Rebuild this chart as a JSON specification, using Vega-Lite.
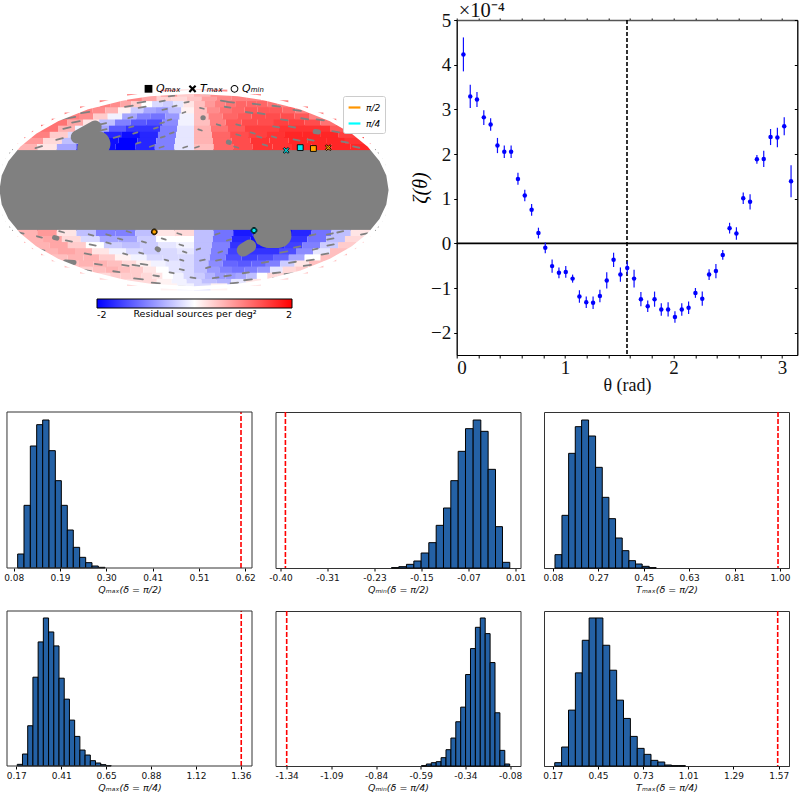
{"$schema":"https://vega.github.io/schema/vega-lite/v6.json","background":"white","padding":{"left":0,"top":0,"right":0,"bottom":0},"config":{"view":{"stroke":"#333"},"font":"DejaVu Sans","axis":{"grid":false}},
"datasets":{
"band":[
{"lat":28.09},{"lat":25.31},{"lat":20.62},{"lat":15.99},{"lat":11.39},{"lat":6.83},{"lat":2.27},{"lat":-2.27},{"lat":-6.83},{"lat":-11.39},{"lat":-15.99},{"lat":-20.62},{"lat":-25.31},{"lat":-28.09}
],
"strips":[
{"lat":32.9,"lon":-180,"lon2":-160,"v":0.6},{"lat":32.9,"lon":-160,"lon2":-140,"v":0.2},{"lat":32.9,"lon":-140,"lon2":-120,"v":-0.7},{"lat":32.9,"lon":-120,"lon2":-100,"v":-1.6},{"lat":32.9,"lon":-100,"lon2":-80,"v":-1.9},{"lat":32.9,"lon":-80,"lon2":-60,"v":-2},{"lat":32.9,"lon":-60,"lon2":-40,"v":-1.7},{"lat":32.9,"lon":-40,"lon2":-20,"v":-1},{"lat":32.9,"lon":-20,"lon2":0,"v":-0.2},{"lat":32.9,"lon":0,"lon2":20,"v":0.5},{"lat":32.9,"lon":20,"lon2":40,"v":1.2},{"lat":32.9,"lon":40,"lon2":60,"v":1.4},{"lat":32.9,"lon":60,"lon2":80,"v":1.6},{"lat":32.9,"lon":80,"lon2":100,"v":1.6},{"lat":32.9,"lon":100,"lon2":120,"v":1.7},{"lat":32.9,"lon":120,"lon2":140,"v":1.7},{"lat":32.9,"lon":140,"lon2":160,"v":1.7},{"lat":32.9,"lon":160,"lon2":180,"v":1.7},
{"lat":37.8,"lon":-180,"lon2":-160,"v":0.8},{"lat":37.8,"lon":-160,"lon2":-140,"v":0.3},{"lat":37.8,"lon":-140,"lon2":-120,"v":-0.5},{"lat":37.8,"lon":-120,"lon2":-100,"v":-1.3},{"lat":37.8,"lon":-100,"lon2":-80,"v":-1.9},{"lat":37.8,"lon":-80,"lon2":-60,"v":-2},{"lat":37.8,"lon":-60,"lon2":-40,"v":-1.7},{"lat":37.8,"lon":-40,"lon2":-20,"v":-1},{"lat":37.8,"lon":-20,"lon2":0,"v":-0.2},{"lat":37.8,"lon":0,"lon2":20,"v":0.6},{"lat":37.8,"lon":20,"lon2":40,"v":1.2},{"lat":37.8,"lon":40,"lon2":60,"v":1.4},{"lat":37.8,"lon":60,"lon2":80,"v":1.6},{"lat":37.8,"lon":80,"lon2":100,"v":1.6},{"lat":37.8,"lon":100,"lon2":120,"v":1.7},{"lat":37.8,"lon":120,"lon2":140,"v":1.7},{"lat":37.8,"lon":140,"lon2":160,"v":1.7},{"lat":37.8,"lon":160,"lon2":180,"v":1.6},
{"lat":42.8,"lon":-180,"lon2":-160,"v":1},{"lat":42.8,"lon":-160,"lon2":-140,"v":0.4},{"lat":42.8,"lon":-140,"lon2":-120,"v":-0.3},{"lat":42.8,"lon":-120,"lon2":-100,"v":-1},{"lat":42.8,"lon":-100,"lon2":-80,"v":-1.7},{"lat":42.8,"lon":-80,"lon2":-60,"v":-1.9},{"lat":42.8,"lon":-60,"lon2":-40,"v":-1.7},{"lat":42.8,"lon":-40,"lon2":-20,"v":-1},{"lat":42.8,"lon":-20,"lon2":0,"v":-0.2},{"lat":42.8,"lon":0,"lon2":20,"v":0.6},{"lat":42.8,"lon":20,"lon2":40,"v":1.2},{"lat":42.8,"lon":40,"lon2":60,"v":1.4},{"lat":42.8,"lon":60,"lon2":80,"v":1.5},{"lat":42.8,"lon":80,"lon2":100,"v":1.6},{"lat":42.8,"lon":100,"lon2":120,"v":1.7},{"lat":42.8,"lon":120,"lon2":140,"v":1.7},{"lat":42.8,"lon":140,"lon2":160,"v":1.7},{"lat":42.8,"lon":160,"lon2":180,"v":1.5},
{"lat":48,"lon":-180,"lon2":-160,"v":1.1},{"lat":48,"lon":-160,"lon2":-140,"v":0.6},{"lat":48,"lon":-140,"lon2":-120,"v":-0.1},{"lat":48,"lon":-120,"lon2":-100,"v":-0.7},{"lat":48,"lon":-100,"lon2":-80,"v":-1.3},{"lat":48,"lon":-80,"lon2":-60,"v":-1.6},{"lat":48,"lon":-60,"lon2":-40,"v":-1.6},{"lat":48,"lon":-40,"lon2":-20,"v":-1},{"lat":48,"lon":-20,"lon2":0,"v":-0.2},{"lat":48,"lon":0,"lon2":20,"v":0.6},{"lat":48,"lon":20,"lon2":40,"v":1.1},{"lat":48,"lon":40,"lon2":60,"v":1.3},{"lat":48,"lon":60,"lon2":80,"v":1.5},{"lat":48,"lon":80,"lon2":100,"v":1.5},{"lat":48,"lon":100,"lon2":120,"v":1.6},{"lat":48,"lon":120,"lon2":140,"v":1.6},{"lat":48,"lon":140,"lon2":160,"v":1.6},{"lat":48,"lon":160,"lon2":180,"v":1.3},
{"lat":53.4,"lon":-180,"lon2":-160,"v":1.1},{"lat":53.4,"lon":-160,"lon2":-140,"v":0.7},{"lat":53.4,"lon":-140,"lon2":-120,"v":0.2},{"lat":53.4,"lon":-120,"lon2":-100,"v":-0.5},{"lat":53.4,"lon":-100,"lon2":-80,"v":-1},{"lat":53.4,"lon":-80,"lon2":-60,"v":-1.3},{"lat":53.4,"lon":-60,"lon2":-40,"v":-1.4},{"lat":53.4,"lon":-40,"lon2":-20,"v":-0.9},{"lat":53.4,"lon":-20,"lon2":0,"v":-0.1},{"lat":53.4,"lon":0,"lon2":20,"v":0.5},{"lat":53.4,"lon":20,"lon2":40,"v":1},{"lat":53.4,"lon":40,"lon2":60,"v":1.3},{"lat":53.4,"lon":60,"lon2":80,"v":1.4},{"lat":53.4,"lon":80,"lon2":100,"v":1.4},{"lat":53.4,"lon":100,"lon2":120,"v":1.5},{"lat":53.4,"lon":120,"lon2":140,"v":1.5},{"lat":53.4,"lon":140,"lon2":160,"v":1.4},{"lat":53.4,"lon":160,"lon2":180,"v":1.1},
{"lat":59.1,"lon":-180,"lon2":-160,"v":1},{"lat":59.1,"lon":-160,"lon2":-140,"v":0.9},{"lat":59.1,"lon":-140,"lon2":-120,"v":0.4},{"lat":59.1,"lon":-120,"lon2":-100,"v":-0.1},{"lat":59.1,"lon":-100,"lon2":-80,"v":-0.7},{"lat":59.1,"lon":-80,"lon2":-60,"v":-1},{"lat":59.1,"lon":-60,"lon2":-40,"v":-1.1},{"lat":59.1,"lon":-40,"lon2":-20,"v":-0.8},{"lat":59.1,"lon":-20,"lon2":0,"v":-0.1},{"lat":59.1,"lon":0,"lon2":20,"v":0.5},{"lat":59.1,"lon":20,"lon2":40,"v":1},{"lat":59.1,"lon":40,"lon2":60,"v":1.2},{"lat":59.1,"lon":60,"lon2":80,"v":1.3},{"lat":59.1,"lon":80,"lon2":100,"v":1.4},{"lat":59.1,"lon":100,"lon2":120,"v":1.4},{"lat":59.1,"lon":120,"lon2":140,"v":1.4},{"lat":59.1,"lon":140,"lon2":160,"v":1.3},{"lat":59.1,"lon":160,"lon2":180,"v":1},
{"lat":65.1,"lon":-180,"lon2":-160,"v":1},{"lat":65.1,"lon":-160,"lon2":-140,"v":0.9},{"lat":65.1,"lon":-140,"lon2":-120,"v":0.6},{"lat":65.1,"lon":-120,"lon2":-100,"v":0.1},{"lat":65.1,"lon":-100,"lon2":-80,"v":-0.4},{"lat":65.1,"lon":-80,"lon2":-60,"v":-0.7},{"lat":65.1,"lon":-60,"lon2":-40,"v":-0.8},{"lat":65.1,"lon":-40,"lon2":-20,"v":-0.5},{"lat":65.1,"lon":-20,"lon2":0,"v":0.1},{"lat":65.1,"lon":0,"lon2":20,"v":0.5},{"lat":65.1,"lon":20,"lon2":40,"v":0.9},{"lat":65.1,"lon":40,"lon2":60,"v":1.1},{"lat":65.1,"lon":60,"lon2":80,"v":1.2},{"lat":65.1,"lon":80,"lon2":100,"v":1.3},{"lat":65.1,"lon":100,"lon2":120,"v":1.3},{"lat":65.1,"lon":120,"lon2":140,"v":1.3},{"lat":65.1,"lon":140,"lon2":160,"v":1.2},{"lat":65.1,"lon":160,"lon2":180,"v":1},
{"lat":71.7,"lon":-180,"lon2":-160,"v":1},{"lat":71.7,"lon":-160,"lon2":-140,"v":0.9},{"lat":71.7,"lon":-140,"lon2":-120,"v":0.7},{"lat":71.7,"lon":-120,"lon2":-100,"v":0.4},{"lat":71.7,"lon":-100,"lon2":-80,"v":0},{"lat":71.7,"lon":-80,"lon2":-60,"v":-0.3},{"lat":71.7,"lon":-60,"lon2":-40,"v":-0.4},{"lat":71.7,"lon":-40,"lon2":-20,"v":-0.2},{"lat":71.7,"lon":-20,"lon2":0,"v":0.2},{"lat":71.7,"lon":0,"lon2":20,"v":0.5},{"lat":71.7,"lon":20,"lon2":40,"v":0.8},{"lat":71.7,"lon":40,"lon2":60,"v":1},{"lat":71.7,"lon":60,"lon2":80,"v":1.1},{"lat":71.7,"lon":80,"lon2":100,"v":1.2},{"lat":71.7,"lon":100,"lon2":120,"v":1.2},{"lat":71.7,"lon":120,"lon2":140,"v":1.2},{"lat":71.7,"lon":140,"lon2":160,"v":1.1},{"lat":71.7,"lon":160,"lon2":180,"v":1},
{"lat":79.3,"lon":-180,"lon2":-140,"v":0.95},{"lat":79.3,"lon":-140,"lon2":-100,"v":0.7},{"lat":79.3,"lon":-100,"lon2":-60,"v":0.35},{"lat":79.3,"lon":-60,"lon2":-20,"v":0.3},{"lat":79.3,"lon":-20,"lon2":20,"v":0.45},{"lat":79.3,"lon":20,"lon2":60,"v":0.75},{"lat":79.3,"lon":60,"lon2":100,"v":0.95},{"lat":79.3,"lon":100,"lon2":140,"v":1},{"lat":79.3,"lon":140,"lon2":180,"v":1},
{"lat":86.3,"lon":-180,"lon2":-90,"v":0.8},{"lat":86.3,"lon":-90,"lon2":0,"v":0.4},{"lat":86.3,"lon":0,"lon2":90,"v":0.6},{"lat":86.3,"lon":90,"lon2":180,"v":0.9},
{"lat":-32.9,"lon":-180,"lon2":-160,"v":0.6},{"lat":-32.9,"lon":-160,"lon2":-140,"v":0.8},{"lat":-32.9,"lon":-140,"lon2":-120,"v":0.2},{"lat":-32.9,"lon":-120,"lon2":-100,"v":-0.5},{"lat":-32.9,"lon":-100,"lon2":-80,"v":-1},{"lat":-32.9,"lon":-80,"lon2":-60,"v":-1},{"lat":-32.9,"lon":-60,"lon2":-40,"v":-0.5},{"lat":-32.9,"lon":-40,"lon2":-20,"v":0.2},{"lat":-32.9,"lon":-20,"lon2":0,"v":0.3},{"lat":-32.9,"lon":0,"lon2":20,"v":-0.5},{"lat":-32.9,"lon":20,"lon2":40,"v":-1.1},{"lat":-32.9,"lon":40,"lon2":60,"v":-1.8},{"lat":-32.9,"lon":60,"lon2":80,"v":-1.9},{"lat":-32.9,"lon":80,"lon2":100,"v":-1.9},{"lat":-32.9,"lon":100,"lon2":120,"v":-1.7},{"lat":-32.9,"lon":120,"lon2":140,"v":-1.1},{"lat":-32.9,"lon":140,"lon2":160,"v":-0.5},{"lat":-32.9,"lon":160,"lon2":180,"v":0.2},
{"lat":-37.8,"lon":-180,"lon2":-160,"v":0.6},{"lat":-37.8,"lon":-160,"lon2":-140,"v":0.7},{"lat":-37.8,"lon":-140,"lon2":-120,"v":0.3},{"lat":-37.8,"lon":-120,"lon2":-100,"v":-0.3},{"lat":-37.8,"lon":-100,"lon2":-80,"v":-0.7},{"lat":-37.8,"lon":-80,"lon2":-60,"v":-0.7},{"lat":-37.8,"lon":-60,"lon2":-40,"v":-0.4},{"lat":-37.8,"lon":-40,"lon2":-20,"v":0},{"lat":-37.8,"lon":-20,"lon2":0,"v":0},{"lat":-37.8,"lon":0,"lon2":20,"v":-0.5},{"lat":-37.8,"lon":20,"lon2":40,"v":-1.1},{"lat":-37.8,"lon":40,"lon2":60,"v":-1.7},{"lat":-37.8,"lon":60,"lon2":80,"v":-1.9},{"lat":-37.8,"lon":80,"lon2":100,"v":-1.9},{"lat":-37.8,"lon":100,"lon2":120,"v":-1.6},{"lat":-37.8,"lon":120,"lon2":140,"v":-1.1},{"lat":-37.8,"lon":140,"lon2":160,"v":-0.5},{"lat":-37.8,"lon":160,"lon2":180,"v":0.3},
{"lat":-42.8,"lon":-180,"lon2":-160,"v":0.6},{"lat":-42.8,"lon":-160,"lon2":-140,"v":0.7},{"lat":-42.8,"lon":-140,"lon2":-120,"v":0.4},{"lat":-42.8,"lon":-120,"lon2":-100,"v":0},{"lat":-42.8,"lon":-100,"lon2":-80,"v":-0.4},{"lat":-42.8,"lon":-80,"lon2":-60,"v":-0.5},{"lat":-42.8,"lon":-60,"lon2":-40,"v":-0.4},{"lat":-42.8,"lon":-40,"lon2":-20,"v":-0.2},{"lat":-42.8,"lon":-20,"lon2":0,"v":-0.1},{"lat":-42.8,"lon":0,"lon2":20,"v":-0.5},{"lat":-42.8,"lon":20,"lon2":40,"v":-1},{"lat":-42.8,"lon":40,"lon2":60,"v":-1.6},{"lat":-42.8,"lon":60,"lon2":80,"v":-1.8},{"lat":-42.8,"lon":80,"lon2":100,"v":-1.7},{"lat":-42.8,"lon":100,"lon2":120,"v":-1.5},{"lat":-42.8,"lon":120,"lon2":140,"v":-1},{"lat":-42.8,"lon":140,"lon2":160,"v":-0.4},{"lat":-42.8,"lon":160,"lon2":180,"v":0.4},
{"lat":-48,"lon":-180,"lon2":-160,"v":0.6},{"lat":-48,"lon":-160,"lon2":-140,"v":0.7},{"lat":-48,"lon":-140,"lon2":-120,"v":0.6},{"lat":-48,"lon":-120,"lon2":-100,"v":0.2},{"lat":-48,"lon":-100,"lon2":-80,"v":-0.1},{"lat":-48,"lon":-80,"lon2":-60,"v":-0.3},{"lat":-48,"lon":-60,"lon2":-40,"v":-0.4},{"lat":-48,"lon":-40,"lon2":-20,"v":-0.3},{"lat":-48,"lon":-20,"lon2":0,"v":-0.2},{"lat":-48,"lon":0,"lon2":20,"v":-0.5},{"lat":-48,"lon":20,"lon2":40,"v":-1},{"lat":-48,"lon":40,"lon2":60,"v":-1.5},{"lat":-48,"lon":60,"lon2":80,"v":-1.6},{"lat":-48,"lon":80,"lon2":100,"v":-1.6},{"lat":-48,"lon":100,"lon2":120,"v":-1.4},{"lat":-48,"lon":120,"lon2":140,"v":-0.9},{"lat":-48,"lon":140,"lon2":160,"v":-0.2},{"lat":-48,"lon":160,"lon2":180,"v":0.5},
{"lat":-53.4,"lon":-180,"lon2":-160,"v":0.5},{"lat":-53.4,"lon":-160,"lon2":-140,"v":0.6},{"lat":-53.4,"lon":-140,"lon2":-120,"v":0.6},{"lat":-53.4,"lon":-120,"lon2":-100,"v":0.4},{"lat":-53.4,"lon":-100,"lon2":-80,"v":0.1},{"lat":-53.4,"lon":-80,"lon2":-60,"v":-0.1},{"lat":-53.4,"lon":-60,"lon2":-40,"v":-0.3},{"lat":-53.4,"lon":-40,"lon2":-20,"v":-0.3},{"lat":-53.4,"lon":-20,"lon2":0,"v":-0.3},{"lat":-53.4,"lon":0,"lon2":20,"v":-0.5},{"lat":-53.4,"lon":20,"lon2":40,"v":-1},{"lat":-53.4,"lon":40,"lon2":60,"v":-1.4},{"lat":-53.4,"lon":60,"lon2":80,"v":-1.5},{"lat":-53.4,"lon":80,"lon2":100,"v":-1.4},{"lat":-53.4,"lon":100,"lon2":120,"v":-1.2},{"lat":-53.4,"lon":120,"lon2":140,"v":-0.7},{"lat":-53.4,"lon":140,"lon2":160,"v":0},{"lat":-53.4,"lon":160,"lon2":180,"v":0.5},
{"lat":-59.1,"lon":-180,"lon2":-160,"v":0.5},{"lat":-59.1,"lon":-160,"lon2":-140,"v":0.6},{"lat":-59.1,"lon":-140,"lon2":-120,"v":0.6},{"lat":-59.1,"lon":-120,"lon2":-100,"v":0.5},{"lat":-59.1,"lon":-100,"lon2":-80,"v":0.3},{"lat":-59.1,"lon":-80,"lon2":-60,"v":0.1},{"lat":-59.1,"lon":-60,"lon2":-40,"v":-0.1},{"lat":-59.1,"lon":-40,"lon2":-20,"v":-0.2},{"lat":-59.1,"lon":-20,"lon2":0,"v":-0.3},{"lat":-59.1,"lon":0,"lon2":20,"v":-0.5},{"lat":-59.1,"lon":20,"lon2":40,"v":-0.9},{"lat":-59.1,"lon":40,"lon2":60,"v":-1.2},{"lat":-59.1,"lon":60,"lon2":80,"v":-1.3},{"lat":-59.1,"lon":80,"lon2":100,"v":-1.2},{"lat":-59.1,"lon":100,"lon2":120,"v":-1},{"lat":-59.1,"lon":120,"lon2":140,"v":-0.4},{"lat":-59.1,"lon":140,"lon2":160,"v":0.2},{"lat":-59.1,"lon":160,"lon2":180,"v":0.5},
{"lat":-65.1,"lon":-180,"lon2":-160,"v":0.4},{"lat":-65.1,"lon":-160,"lon2":-140,"v":0.5},{"lat":-65.1,"lon":-140,"lon2":-120,"v":0.6},{"lat":-65.1,"lon":-120,"lon2":-100,"v":0.5},{"lat":-65.1,"lon":-100,"lon2":-80,"v":0.4},{"lat":-65.1,"lon":-80,"lon2":-60,"v":0.2},{"lat":-65.1,"lon":-60,"lon2":-40,"v":0},{"lat":-65.1,"lon":-40,"lon2":-20,"v":-0.2},{"lat":-65.1,"lon":-20,"lon2":0,"v":-0.3},{"lat":-65.1,"lon":0,"lon2":20,"v":-0.5},{"lat":-65.1,"lon":20,"lon2":40,"v":-0.8},{"lat":-65.1,"lon":40,"lon2":60,"v":-1},{"lat":-65.1,"lon":60,"lon2":80,"v":-1.1},{"lat":-65.1,"lon":80,"lon2":100,"v":-1},{"lat":-65.1,"lon":100,"lon2":120,"v":-0.8},{"lat":-65.1,"lon":120,"lon2":140,"v":-0.2},{"lat":-65.1,"lon":140,"lon2":160,"v":0.3},{"lat":-65.1,"lon":160,"lon2":180,"v":0.4},
{"lat":-71.7,"lon":-180,"lon2":-160,"v":0.3},{"lat":-71.7,"lon":-160,"lon2":-140,"v":0.4},{"lat":-71.7,"lon":-140,"lon2":-120,"v":0.4},{"lat":-71.7,"lon":-120,"lon2":-100,"v":0.4},{"lat":-71.7,"lon":-100,"lon2":-80,"v":0.3},{"lat":-71.7,"lon":-80,"lon2":-60,"v":0.2},{"lat":-71.7,"lon":-60,"lon2":-40,"v":0},{"lat":-71.7,"lon":-40,"lon2":-20,"v":-0.1},{"lat":-71.7,"lon":-20,"lon2":0,"v":-0.3},{"lat":-71.7,"lon":0,"lon2":20,"v":-0.4},{"lat":-71.7,"lon":20,"lon2":40,"v":-0.6},{"lat":-71.7,"lon":40,"lon2":60,"v":-0.8},{"lat":-71.7,"lon":60,"lon2":80,"v":-0.8},{"lat":-71.7,"lon":80,"lon2":100,"v":-0.7},{"lat":-71.7,"lon":100,"lon2":120,"v":-0.5},{"lat":-71.7,"lon":120,"lon2":140,"v":0},{"lat":-71.7,"lon":140,"lon2":160,"v":0.3},{"lat":-71.7,"lon":160,"lon2":180,"v":0.3},
{"lat":-79.3,"lon":-180,"lon2":-140,"v":0.3},{"lat":-79.3,"lon":-140,"lon2":-100,"v":0.3},{"lat":-79.3,"lon":-100,"lon2":-60,"v":0.1},{"lat":-79.3,"lon":-60,"lon2":-20,"v":-0.1},{"lat":-79.3,"lon":-20,"lon2":20,"v":-0.3},{"lat":-79.3,"lon":20,"lon2":60,"v":-0.5},{"lat":-79.3,"lon":60,"lon2":100,"v":-0.6},{"lat":-79.3,"lon":100,"lon2":140,"v":-0.2},{"lat":-79.3,"lon":140,"lon2":180,"v":0.2},
{"lat":-86.3,"lon":-180,"lon2":-90,"v":0.1},{"lat":-86.3,"lon":-90,"lon2":0,"v":-0.1},{"lat":-86.3,"lon":0,"lon2":90,"v":-0.3},{"lat":-86.3,"lon":90,"lon2":180,"v":0.1}
],
"masks":[
{"kind":"l","lon":-127,"lat":40.7,"lon2":-118,"lat2":49.2},{"kind":"x","lon":-105,"lat":31.7,"lon2":-100,"lat2":34.9},{"kind":"l","lon":57,"lat":-46.6,"lon2":62,"lat2":-43.2},{"kind":"x","lon":76,"lat":-34.1,"lon2":87,"lat2":-34.1},
{"kind":"m","lon":12,"lat":57.5,"lon2":12.5,"lat2":57.5},{"kind":"m","lon":138,"lat":45.2,"lon2":141,"lat2":44.8},{"kind":"m","lon":36,"lat":36.5,"lon2":37,"lat2":36.3},{"kind":"m","lon":-146,"lat":-36.3,"lon2":-144,"lat2":-36.7},{"kind":"m","lon":-42,"lat":-45.5,"lon2":-41,"lat2":-46.2},{"kind":"m","lon":-173,"lat":-57.2,"lon2":-163,"lat2":-57.8},
{"kind":"m","lon":64,"lat":-34.9,"lon2":70,"lat2":-39.8},
{"kind":"s","lon":-160.6,"lat":31.8,"lon2":-155.4,"lat2":33.2},{"kind":"s","lon":-178,"lat":55.8,"lon2":-172,"lat2":57.2},{"kind":"s","lon":-169.5,"lat":56.8,"lon2":-162.5,"lat2":58.2},{"kind":"s","lon":-153.3,"lat":53,"lon2":-146.7,"lat2":54.4},{"kind":"s","lon":-153,"lat":47.6,"lon2":-147,"lat2":49},{"kind":"s","lon":-165.8,"lat":61.8,"lon2":-158.2,"lat2":63.2},{"kind":"s","lon":-116.2,"lat":51.2,"lon2":-109.8,"lat2":52.6},{"kind":"s","lon":-108,"lat":45.9,"lon2":-102,"lat2":47.3},{"kind":"s","lon":-146.7,"lat":38.3,"lon2":-141.3,"lat2":39.7},{"kind":"s","lon":-86.8,"lat":40,"lon2":-81.2,"lat2":41.4},{"kind":"s","lon":-118.5,"lat":68.3,"lon2":-109.5,"lat2":69.7},{"kind":"s","lon":-112,"lat":72.8,"lon2":-102,"lat2":74.2},{"kind":"s","lon":-92.3,"lat":67.2,"lon2":-83.7,"lat2":68.6},{"kind":"s","lon":-88,"lat":57,"lon2":-84,"lat2":58},{"kind":"s","lon":-77,"lat":48.7,"lon2":-73,"lat2":49.7},{"kind":"s","lon":-68,"lat":43.5,"lon2":-64,"lat2":44.5},{"kind":"s","lon":-60,"lat":35.2,"lon2":-56,"lat2":36.2},{"kind":"s","lon":-45,"lat":32.8,"lon2":-41,"lat2":33.8},{"kind":"s","lon":-72,"lat":74.3,"lon2":-64,"lat2":75.3},{"kind":"s","lon":-50,"lat":65.2,"lon2":-44,"lat2":66.2},{"kind":"s","lon":-76,"lat":81,"lon2":-64,"lat2":82},{"kind":"s","lon":-37,"lat":68.5,"lon2":-31,"lat2":69.5},{"kind":"s","lon":-19,"lat":73,"lon2":-11,"lat2":74},{"kind":"s","lon":-17,"lat":62,"lon2":-13,"lat2":63},{"kind":"s","lon":-34,"lat":55,"lon2":-30,"lat2":56},{"kind":"s","lon":-42,"lat":52.3,"lon2":-38,"lat2":53.3},{"kind":"s","lon":-47,"lat":47.8,"lon2":-43,"lat2":48.8},{"kind":"s","lon":-27,"lat":43.5,"lon2":-23,"lat2":44.5},{"kind":"s","lon":-36,"lat":40.2,"lon2":-32,"lat2":41.2},{"kind":"s","lon":-35,"lat":32,"lon2":-31,"lat2":33},{"kind":"s","lon":-11,"lat":32,"lon2":-7,"lat2":33},{"kind":"s","lon":1,"lat":32,"lon2":5,"lat2":33},
{"kind":"s","lon":45,"lat":86.5,"lon2":75,"lat2":85.5},{"kind":"s","lon":59,"lat":75.3,"lon2":69,"lat2":74.3},{"kind":"s","lon":70,"lat":74,"lon2":80,"lat2":73},{"kind":"s","lon":112,"lat":71.7,"lon2":122,"lat2":70.7},{"kind":"s","lon":10,"lat":67.3,"lon2":16,"lat2":66.3},{"kind":"s","lon":53,"lat":68.4,"lon2":61,"lat2":67.4},{"kind":"s","lon":78,"lat":63,"lon2":86,"lat2":62},{"kind":"s","lon":94,"lat":62,"lon2":102,"lat2":61},{"kind":"s","lon":139.5,"lat":69.5,"lon2":148.5,"lat2":68.5},{"kind":"s","lon":157,"lat":65.1,"lon2":165,"lat2":64.1},{"kind":"s","lon":114.6,"lat":56,"lon2":121.4,"lat2":55},{"kind":"s","lon":143.6,"lat":57,"lon2":150.4,"lat2":56},{"kind":"s","lon":161.6,"lat":56,"lon2":168.4,"lat2":55},{"kind":"s","lon":28,"lat":51.5,"lon2":32,"lat2":50.5},{"kind":"s","lon":52,"lat":51.5,"lon2":56,"lat2":50.5},{"kind":"s","lon":5,"lat":47.1,"lon2":9,"lat2":46.1},{"kind":"s","lon":64,"lat":44.5,"lon2":68,"lat2":43.5},{"kind":"s","lon":95,"lat":49.7,"lon2":101,"lat2":48.7},{"kind":"s","lon":114,"lat":49.7,"lon2":120,"lat2":48.7},{"kind":"s","lon":158,"lat":45.5,"lon2":164,"lat2":44.5},{"kind":"s","lon":47,"lat":42.9,"lon2":51,"lat2":41.9},{"kind":"s","lon":69,"lat":41.2,"lon2":73,"lat2":40.2},{"kind":"s","lon":85,"lat":41.2,"lon2":89,"lat2":40.2},{"kind":"s","lon":106.3,"lat":38.7,"lon2":111.7,"lat2":37.7},{"kind":"s","lon":121.3,"lat":38.7,"lon2":126.7,"lat2":37.7},{"kind":"s","lon":155.3,"lat":37,"lon2":160.7,"lat2":36},{"kind":"s","lon":162.4,"lat":33,"lon2":167.6,"lat2":32},{"kind":"s","lon":71,"lat":34.6,"lon2":75,"lat2":33.6},{"kind":"s","lon":41,"lat":33,"lon2":45,"lat2":32},
{"kind":"s","lon":-179,"lat":-32,"lon2":-174,"lat2":-33},{"kind":"s","lon":-163,"lat":-35.2,"lon2":-159,"lat2":-36.2},{"kind":"s","lon":-136,"lat":-31.2,"lon2":-132,"lat2":-32.2},{"kind":"s","lon":-136.7,"lat":-38.5,"lon2":-131.3,"lat2":-39.5},{"kind":"s","lon":-178,"lat":-46.1,"lon2":-174,"lat2":-47.1},{"kind":"s","lon":-108,"lat":-33.6,"lon2":-104,"lat2":-34.6},{"kind":"s","lon":-114.8,"lat":-41.9,"lon2":-109.2,"lat2":-42.9},{"kind":"s","lon":-131,"lat":-49.5,"lon2":-125,"lat2":-50.5},{"kind":"s","lon":-137.6,"lat":-59,"lon2":-130.4,"lat2":-60},{"kind":"s","lon":-173,"lat":-65.2,"lon2":-167,"lat2":-66.2},{"kind":"s","lon":-90,"lat":-33.6,"lon2":-86,"lat2":-34.6},{"kind":"s","lon":-95,"lat":-40.2,"lon2":-91,"lat2":-41.2},{"kind":"s","lon":-80,"lat":-36.9,"lon2":-76,"lat2":-37.9},{"kind":"s","lon":-85,"lat":-49.5,"lon2":-81,"lat2":-50.5},{"kind":"s","lon":-131.5,"lat":-66.3,"lon2":-124.5,"lat2":-67.3},{"kind":"s","lon":-101.6,"lat":-60,"lon2":-94.4,"lat2":-61},{"kind":"s","lon":-87,"lat":-60,"lon2":-79,"lat2":-61},{"kind":"s","lon":-74,"lat":-59,"lon2":-66,"lat2":-60},{"kind":"s","lon":-65,"lat":-48.7,"lon2":-61,"lat2":-49.7},{"kind":"s","lon":-56,"lat":-39.3,"lon2":-52,"lat2":-40.3},{"kind":"s","lon":-68,"lat":-31.2,"lon2":-64,"lat2":-32.2},{"kind":"s","lon":-34,"lat":-36.9,"lon2":-30,"lat2":-37.9},{"kind":"s","lon":-17,"lat":-32.8,"lon2":-13,"lat2":-33.8},{"kind":"s","lon":-16,"lat":-41.9,"lon2":-12,"lat2":-42.9},{"kind":"s","lon":-13,"lat":-47.8,"lon2":-9,"lat2":-48.8},{"kind":"s","lon":-38,"lat":-55,"lon2":-34,"lat2":-56},{"kind":"s","lon":-18,"lat":-55,"lon2":-14,"lat2":-56},{"kind":"s","lon":-41,"lat":-67.4,"lon2":-35,"lat2":-68.4},{"kind":"s","lon":-75,"lat":-70.7,"lon2":-67,"lat2":-71.7},{"kind":"s","lon":-126,"lat":-74.3,"lon2":-112,"lat2":-75.3},{"kind":"s","lon":-115,"lat":-79.5,"lon2":-99,"lat2":-80.5},{"kind":"s","lon":-80,"lat":-86,"lon2":-40,"lat2":-86.5},{"kind":"s","lon":-7,"lat":-73,"lon2":3,"lat2":-74},{"kind":"s","lon":-22,"lat":-64.1,"lon2":-16,"lat2":-65.1},
{"kind":"s","lon":22,"lat":-33.8,"lon2":26,"lat2":-32.8},{"kind":"s","lon":35,"lat":-38.7,"lon2":39,"lat2":-37.7},{"kind":"s","lon":3,"lat":-46.3,"lon2":7,"lat2":-45.3},{"kind":"s","lon":8,"lat":-56,"lon2":14,"lat2":-55},{"kind":"s","lon":18,"lat":-63,"lon2":24,"lat2":-62},{"kind":"s","lon":29,"lat":-48.8,"lon2":33,"lat2":-47.8},{"kind":"s","lon":29,"lat":-56,"lon2":35,"lat2":-55},{"kind":"s","lon":39,"lat":-74,"lon2":49,"lat2":-73},{"kind":"s","lon":58,"lat":-71.7,"lon2":68,"lat2":-70.7},{"kind":"s","lon":106,"lat":-80.5,"lon2":120,"lat2":-79.5},{"kind":"s","lon":116,"lat":-76.5,"lon2":128,"lat2":-75.5},{"kind":"s","lon":84,"lat":-68.4,"lon2":92,"lat2":-67.4},{"kind":"s","lon":92.5,"lat":-58,"lon2":99.5,"lat2":-57},{"kind":"s","lon":102.5,"lat":-48.8,"lon2":109.5,"lat2":-47.8},{"kind":"s","lon":113,"lat":-44.5,"lon2":119,"lat2":-43.5},{"kind":"s","lon":97,"lat":-41.2,"lon2":101,"lat2":-40.2},{"kind":"s","lon":119.5,"lat":-34.6,"lon2":124.5,"lat2":-33.6},{"kind":"s","lon":137,"lat":-46.3,"lon2":141,"lat2":-45.3},{"kind":"s","lon":129.5,"lat":-58,"lon2":136.5,"lat2":-57},{"kind":"s","lon":148.6,"lat":-56,"lon2":155.4,"lat2":-55},{"kind":"s","lon":158.4,"lat":-61,"lon2":165.6,"lat2":-60},{"kind":"s","lon":135.7,"lat":-68.4,"lon2":144.3,"lat2":-67.4},{"kind":"s","lon":161,"lat":-69.5,"lon2":171,"lat2":-68.5},{"kind":"s","lon":164,"lat":-74,"lon2":174,"lat2":-73},{"kind":"s","lon":136.4,"lat":-33.8,"lon2":141.6,"lat2":-32.8},{"kind":"s","lon":141.3,"lat":-37.9,"lon2":146.7,"lat2":-36.9},{"kind":"s","lon":148.2,"lat":-42.9,"lon2":153.8,"lat2":-41.9},{"kind":"s","lon":155,"lat":-50.5,"lon2":161,"lat2":-49.5},{"kind":"s","lon":145.5,"lat":-32.2,"lon2":150.5,"lat2":-31.2},{"kind":"s","lon":171.5,"lat":-33.8,"lon2":176.5,"lat2":-32.8}
],
"markers":[
{"stat":"Qₘₐₓ","delta":"π/2","lon":120.6,"lat":31.4},{"stat":"Tₘₐₓ","delta":"π/2","lon":136.3,"lat":32.1},{"stat":"Qₘᵢₙ","delta":"π/2","lon":-40.2,"lat":-31.7},
{"stat":"Qₘₐₓ","delta":"π/4","lon":107.8,"lat":32.1},{"stat":"Tₘₐₓ","delta":"π/4","lon":92.2,"lat":29.9},{"stat":"Qₘᵢₙ","delta":"π/4","lon":60.3,"lat":-30.6}
],
"zeta":[
{"t":0.062,"z":4.23,"lo":3.85,"hi":4.61},{"t":0.125,"z":3.29,"lo":3.03,"hi":3.55},{"t":0.187,"z":3.22,"lo":3.05,"hi":3.39},{"t":0.25,"z":2.82,"lo":2.65,"hi":2.98},{"t":0.313,"z":2.66,"lo":2.52,"hi":2.8},{"t":0.376,"z":2.19,"lo":2.02,"hi":2.36},{"t":0.439,"z":2.05,"lo":1.91,"hi":2.19},{"t":0.502,"z":2.05,"lo":1.91,"hi":2.19},{"t":0.565,"z":1.44,"lo":1.31,"hi":1.58},{"t":0.628,"z":1.07,"lo":0.94,"hi":1.2},
{"t":0.691,"z":0.75,"lo":0.62,"hi":0.88},{"t":0.754,"z":0.23,"lo":0.11,"hi":0.35},{"t":0.817,"z":-0.1,"lo":-0.22,"hi":0.02},{"t":0.88,"z":-0.51,"lo":-0.66,"hi":-0.36},{"t":0.943,"z":-0.66,"lo":-0.78,"hi":-0.54},{"t":1.006,"z":-0.64,"lo":-0.77,"hi":-0.51},{"t":1.069,"z":-0.79,"lo":-0.88,"hi":-0.7},{"t":1.132,"z":-1.19,"lo":-1.33,"hi":-1.05},{"t":1.195,"z":-1.32,"lo":-1.45,"hi":-1.19},{"t":1.258,"z":-1.33,"lo":-1.47,"hi":-1.19},
{"t":1.321,"z":-1.18,"lo":-1.32,"hi":-1.04},{"t":1.384,"z":-0.83,"lo":-1.01,"hi":-0.65},{"t":1.447,"z":-0.37,"lo":-0.53,"hi":-0.21},{"t":1.51,"z":-0.7,"lo":-0.86,"hi":-0.54},{"t":1.573,"z":-0.55,"lo":-0.7,"hi":-0.4},{"t":1.636,"z":-0.79,"lo":-0.99,"hi":-0.59},{"t":1.699,"z":-1.25,"lo":-1.41,"hi":-1.09},{"t":1.762,"z":-1.41,"lo":-1.54,"hi":-1.28},{"t":1.825,"z":-1.25,"lo":-1.42,"hi":-1.08},{"t":1.887,"z":-1.48,"lo":-1.62,"hi":-1.34},
{"t":1.95,"z":-1.48,"lo":-1.64,"hi":-1.32},{"t":2.013,"z":-1.65,"lo":-1.78,"hi":-1.52},{"t":2.076,"z":-1.48,"lo":-1.62,"hi":-1.34},{"t":2.139,"z":-1.44,"lo":-1.58,"hi":-1.3},{"t":2.202,"z":-1.11,"lo":-1.22,"hi":-1},{"t":2.265,"z":-1.24,"lo":-1.4,"hi":-1.08},{"t":2.328,"z":-0.7,"lo":-0.82,"hi":-0.58},{"t":2.391,"z":-0.62,"lo":-0.78,"hi":-0.46},{"t":2.454,"z":-0.26,"lo":-0.37,"hi":-0.15},{"t":2.517,"z":0.34,"lo":0.22,"hi":0.46},
{"t":2.58,"z":0.22,"lo":0.08,"hi":0.36},{"t":2.643,"z":1.01,"lo":0.88,"hi":1.14},{"t":2.706,"z":0.93,"lo":0.76,"hi":1.1},{"t":2.769,"z":1.88,"lo":1.78,"hi":1.98},{"t":2.832,"z":1.89,"lo":1.71,"hi":2.07},{"t":2.895,"z":2.38,"lo":2.2,"hi":2.56},{"t":2.958,"z":2.37,"lo":2.15,"hi":2.59},{"t":3.021,"z":2.62,"lo":2.42,"hi":2.82},{"t":3.084,"z":1.39,"lo":1.03,"hi":1.75}
],
"hist":[
{"p":"a","x0":0.0923,"x1":0.107,"n":42},{"p":"a","x0":0.107,"x1":0.1217,"n":188},{"p":"a","x0":0.1217,"x1":0.1364,"n":366},{"p":"a","x0":0.1364,"x1":0.1503,"n":430},{"p":"a","x0":0.1503,"x1":0.165,"n":444},{"p":"a","x0":0.165,"x1":0.1797,"n":352},{"p":"a","x0":0.1797,"x1":0.1936,"n":262},{"p":"a","x0":0.1936,"x1":0.2075,"n":188},{"p":"a","x0":0.2075,"x1":0.2214,"n":114},{"p":"a","x0":0.2214,"x1":0.2361,"n":62},{"p":"a","x0":0.2361,"x1":0.2501,"n":32},{"p":"a","x0":0.2501,"x1":0.2647,"n":16},{"p":"a","x0":0.2647,"x1":0.2794,"n":6},{"p":"a","x0":0.2794,"x1":0.2949,"n":2},
{"p":"b","x0":-0.2033,"x1":-0.1906,"n":1},{"p":"b","x0":-0.1906,"x1":-0.1773,"n":4},{"p":"b","x0":-0.1773,"x1":-0.1645,"n":11},{"p":"b","x0":-0.1645,"x1":-0.1518,"n":21},{"p":"b","x0":-0.1518,"x1":-0.1385,"n":45},{"p":"b","x0":-0.1385,"x1":-0.1257,"n":76},{"p":"b","x0":-0.1257,"x1":-0.113,"n":128},{"p":"b","x0":-0.113,"x1":-0.1003,"n":180},{"p":"b","x0":-0.1003,"x1":-0.0875,"n":262},{"p":"b","x0":-0.0875,"x1":-0.0748,"n":350},{"p":"b","x0":-0.0748,"x1":-0.0615,"n":418},{"p":"b","x0":-0.0615,"x1":-0.0482,"n":444},{"p":"b","x0":-0.0482,"x1":-0.0355,"n":410},{"p":"b","x0":-0.0355,"x1":-0.0227,"n":296},{"p":"b","x0":-0.0227,"x1":-0.0106,"n":124},{"p":"b","x0":-0.0106,"x1":0.0021,"n":17},
{"p":"c","x0":0.0906,"x1":0.1187,"n":40},{"p":"c","x0":0.1187,"x1":0.1456,"n":158},{"p":"c","x0":0.1456,"x1":0.1724,"n":344},{"p":"c","x0":0.1724,"x1":0.198,"n":424},{"p":"c","x0":0.198,"x1":0.2261,"n":444},{"p":"c","x0":0.2261,"x1":0.2543,"n":396},{"p":"c","x0":0.2543,"x1":0.2812,"n":302},{"p":"c","x0":0.2812,"x1":0.308,"n":212},{"p":"c","x0":0.308,"x1":0.3348,"n":148},{"p":"c","x0":0.3348,"x1":0.3617,"n":90},{"p":"c","x0":0.3617,"x1":0.3885,"n":52},{"p":"c","x0":0.3885,"x1":0.4154,"n":22},{"p":"c","x0":0.4154,"x1":0.4422,"n":12},{"p":"c","x0":0.4422,"x1":0.4704,"n":5},{"p":"c","x0":0.4704,"x1":0.4986,"n":1},
{"p":"d","x0":0.1754,"x1":0.203,"n":5},{"p":"d","x0":0.203,"x1":0.2307,"n":36},{"p":"d","x0":0.2307,"x1":0.2583,"n":121},{"p":"d","x0":0.2583,"x1":0.286,"n":267},{"p":"d","x0":0.286,"x1":0.3136,"n":373},{"p":"d","x0":0.3136,"x1":0.3412,"n":445},{"p":"d","x0":0.3412,"x1":0.3689,"n":403},{"p":"d","x0":0.3689,"x1":0.3965,"n":361},{"p":"d","x0":0.3965,"x1":0.4242,"n":264},{"p":"d","x0":0.4242,"x1":0.4518,"n":201},{"p":"d","x0":0.4518,"x1":0.4794,"n":138},{"p":"d","x0":0.4794,"x1":0.5071,"n":89},{"p":"d","x0":0.5071,"x1":0.5347,"n":48},{"p":"d","x0":0.5347,"x1":0.5624,"n":33},{"p":"d","x0":0.5624,"x1":0.59,"n":16},{"p":"d","x0":0.59,"x1":0.6176,"n":9},{"p":"d","x0":0.6176,"x1":0.6453,"n":4},{"p":"d","x0":0.6453,"x1":0.6729,"n":1},
{"p":"e","x0":-0.5834,"x1":-0.5558,"n":1},{"p":"e","x0":-0.5558,"x1":-0.5282,"n":6},{"p":"e","x0":-0.5282,"x1":-0.5006,"n":10},{"p":"e","x0":-0.5006,"x1":-0.473,"n":13},{"p":"e","x0":-0.473,"x1":-0.4454,"n":25},{"p":"e","x0":-0.4454,"x1":-0.4178,"n":49},{"p":"e","x0":-0.4178,"x1":-0.3902,"n":84},{"p":"e","x0":-0.3902,"x1":-0.3627,"n":133},{"p":"e","x0":-0.3627,"x1":-0.3351,"n":177},{"p":"e","x0":-0.3351,"x1":-0.3075,"n":275},{"p":"e","x0":-0.3075,"x1":-0.2799,"n":353},{"p":"e","x0":-0.2799,"x1":-0.2523,"n":417},{"p":"e","x0":-0.2523,"x1":-0.2247,"n":445},{"p":"e","x0":-0.2247,"x1":-0.1971,"n":398},{"p":"e","x0":-0.1971,"x1":-0.1695,"n":311},{"p":"e","x0":-0.1695,"x1":-0.142,"n":160},{"p":"e","x0":-0.142,"x1":-0.1144,"n":47},{"p":"e","x0":-0.1144,"x1":-0.0868,"n":6},
{"p":"f","x0":0.1826,"x1":0.2252,"n":10},{"p":"f","x0":0.2252,"x1":0.2678,"n":57},{"p":"f","x0":0.2678,"x1":0.3104,"n":168},{"p":"f","x0":0.3104,"x1":0.353,"n":280},{"p":"f","x0":0.353,"x1":0.3956,"n":378},{"p":"f","x0":0.3956,"x1":0.4382,"n":445},{"p":"f","x0":0.4382,"x1":0.4808,"n":445},{"p":"f","x0":0.4808,"x1":0.5234,"n":363},{"p":"f","x0":0.5234,"x1":0.566,"n":288},{"p":"f","x0":0.566,"x1":0.6086,"n":198},{"p":"f","x0":0.6086,"x1":0.6512,"n":143},{"p":"f","x0":0.6512,"x1":0.6938,"n":89},{"p":"f","x0":0.6938,"x1":0.7364,"n":53},{"p":"f","x0":0.7364,"x1":0.779,"n":35},{"p":"f","x0":0.779,"x1":0.8216,"n":17},{"p":"f","x0":0.8216,"x1":0.8642,"n":12},{"p":"f","x0":0.8642,"x1":0.9068,"n":3},{"p":"f","x0":0.9068,"x1":0.9494,"n":1},{"p":"f","x0":0.9494,"x1":0.992,"n":1}
],
"obs":[{"p":"a","x":0.6105},{"p":"b","x":-0.3875},{"p":"c","x":0.9899},{"p":"d","x":1.362},{"p":"e","x":-1.342},{"p":"f","x":1.564}]
},
"vconcat":[
{"spacing":16.7,"bounds":"flush","hconcat":[
{"width":440,"height":335,"view":{"stroke":null},"projection":{"type":"mollweide","scale":69.5,"translate":[194,170]},"layer":[
{"data":{"name":"band"},"mark":{"type":"rule","strokeWidth":7.5,"color":"#808080"},"encoding":{"longitude":{"datum":-180},"latitude":{"field":"lat","type":"quantitative"},"longitude2":{"datum":180},"latitude2":{"field":"lat"}}},
{"data":{"name":"strips"},"mark":{"type":"rule","strokeWidth":7},"encoding":{"longitude":{"field":"lon","type":"quantitative"},"latitude":{"field":"lat","type":"quantitative"},"longitude2":{"field":"lon2"},"latitude2":{"field":"lat"},"color":{"field":"v","type":"quantitative","scale":{"domain":[-2,0,2],"range":["#0000ff","#ffffff","#ff0000"],"interpolate":"rgb"},"legend":{"orient":"none","legendX":97,"legendY":279,"direction":"horizontal","gradientLength":195,"gradientThickness":9,"gradientStrokeColor":"black","gradientStrokeWidth":1,"values":[-2,2],"labelExpr":"datum.value<0?'-2':'2'","labelFontSize":9.5,"labelColor":"black","title":"Residual sources per deg²","titleOrient":"bottom","titleAnchor":"middle","titleFontWeight":"normal","titleFontSize":9.5,"titleColor":"black","titlePadding":-11}}}},
{"data":{"name":"masks"},"mark":{"type":"rule","strokeCap":"round","color":"#808080"},"encoding":{"longitude":{"field":"lon","type":"quantitative"},"latitude":{"field":"lat","type":"quantitative"},"longitude2":{"field":"lon2"},"latitude2":{"field":"lat2"},"strokeWidth":{"field":"kind","type":"nominal","scale":{"type":"ordinal","domain":["s","m","l","x"],"range":[1.8,5,13,26]},"legend":null}}},
{"data":{"sphere":true},"mark":{"type":"geoshape","filled":false,"stroke":"white","strokeWidth":4}},
{"data":{"name":"markers"},"mark":{"type":"rule","strokeWidth":2.2},"encoding":{"longitude":{"field":"lon","type":"quantitative"},"latitude":{"field":"lat","type":"quantitative"},"longitude2":{"field":"lon"},"latitude2":{"field":"lat"},"stroke":{"field":"delta","type":"nominal","scale":{"domain":["π/2","π/4"],"range":["#ff9500","#00ffff"]},"legend":{"orient":"none","legendX":343,"legendY":76,"title":null,"symbolType":"stroke","symbolStrokeWidth":2.2,"symbolSize":140,"labelFontSize":9,"labelFontStyle":"italic","labelColor":"black","fillColor":"white","strokeColor":"#ccc","cornerRadius":2,"padding":4,"rowPadding":3}}}},
{"data":{"name":"markers"},"transform":[{"filter":"datum.stat==='Qₘᵢₙ'"}],"mark":{"type":"circle","opacity":1,"size":30},"encoding":{"longitude":{"field":"lon","type":"quantitative"},"latitude":{"field":"lat","type":"quantitative"},"fill":{"field":"delta","type":"nominal","scale":{"domain":["π/2","π/4"],"range":["#ffa500","#00e8ef"]},"legend":null}}},
{"data":{"name":"markers"},"mark":{"type":"point","filled":true,"opacity":1,"stroke":"black","strokeWidth":0.9,"size":34},"encoding":{"longitude":{"field":"lon","type":"quantitative"},"latitude":{"field":"lat","type":"quantitative"},"shape":{"field":"stat","type":"nominal","scale":{"domain":["Qₘₐₓ","Tₘₐₓ","Qₘᵢₙ"],"range":["square","M-1,-.6L-.6,-1L0,-.4L.6,-1L1,-.6L.4,0L1,.6L.6,1L0,.4L-.6,1L-1,.6L-.4,0Z","M-1,0A1,1 0 1,1 1,0A1,1 0 1,1 -1,0ZM-.75,0A.75,.75 0 1,0 .75,0A.75,.75 0 1,0 -.75,0Z"]},"legend":{"orient":"none","legendX":143,"legendY":63,"title":null,"direction":"horizontal","columns":3,"columnPadding":4,"symbolSize":60,"symbolStrokeColor":"black","labelFontSize":11,"labelFontStyle":"italic","labelColor":"black","labelOffset":2}},"fill":{"field":"delta","type":"nominal","scale":{"domain":["π/2","π/4"],"range":["#ffa500","#00e8ef"]},"legend":null}}}
]},
{"width":340.6,"height":335,"title":{"text":"×10⁻⁴","anchor":"start","frame":"group","font":"Liberation Serif","fontSize":20.5,"fontWeight":"normal","color":"#111","offset":-10,"dx":2},"resolve":{"axis":{"x":"independent","y":"independent"}},"layer":[
{"data":{"values":[{"y0":0}]},"mark":{"type":"rule","color":"black","strokeWidth":1.6},"encoding":{"y":{"field":"y0","type":"quantitative","scale":{"domain":[-2.5,5],"nice":false},"axis":{"orient":"left","values":[-2,-1,0,1,2,3,4,5],"title":"ζ(θ)","titleFont":"Liberation Serif","titleFontStyle":"italic","titleFontWeight":"normal","titleFontSize":20,"titleColor":"black","titlePadding":0,"labelFont":"Liberation Serif","labelFontSize":19,"labelColor":"#111","labelPadding":3,"tickColor":"black","tickSize":3,"domainColor":"black"}}}},
{"data":{"values":[{"x0":1.5708}]},"mark":{"type":"rule","color":"black","strokeWidth":1.6,"strokeDash":[4,2]},"encoding":{"x":{"field":"x0","type":"quantitative","scale":{"domain":[0,3.1416],"nice":false},"axis":{"orient":"bottom","values":[0,0.2,0.4,0.6,0.8,1,1.2,1.4,1.6,1.8,2,2.2,2.4,2.6,2.8,3],"labelExpr":"datum.value%1===0?datum.value:''","title":"θ (rad)","titleFont":"Liberation Serif","titleFontWeight":"normal","titleFontSize":18,"titleColor":"#111","titlePadding":-0.5,"labelFont":"Liberation Serif","labelFontSize":19,"labelColor":"#111","labelPadding":0,"labelOverlap":false,"tickColor":"black","tickSize":3,"domainColor":"black"}}}},
{"data":{"name":"zeta"},"mark":{"type":"rule","color":"#1010ff","strokeWidth":1.2},"encoding":{"x":{"field":"t","type":"quantitative","axis":{"orient":"top","values":[0,0.2,0.4,0.6,0.8,1,1.2,1.4,1.6,1.8,2,2.2,2.4,2.6,2.8,3],"labels":false,"title":null,"tickSize":2,"tickColor":"black","domainColor":"#555","domainWidth":1.5}},"y":{"field":"lo","type":"quantitative","axis":{"orient":"right","values":[-2,-1,0,1,2,3,4,5],"labels":false,"title":null,"tickSize":-3,"tickColor":"black","domainColor":"black"}},"y2":{"field":"hi"}}},
{"data":{"name":"zeta"},"mark":{"type":"circle","color":"#0000ff","opacity":1,"size":20},"encoding":{"x":{"field":"t","type":"quantitative","axis":null},"y":{"field":"z","type":"quantitative","axis":null}}}
]}
]},
{"spacing":23.5,"bounds":"flush","hconcat":[
{"width":252,"height":156,"view":{"stroke":null},"layer":[
{"data":{"name":"hist"},"transform":[{"filter":"datum.p==='a'"}],"mark":{"type":"rect","fill":"#2461a5","stroke":"black","strokeWidth":1},"encoding":{"x":{"field":"x0","type":"quantitative","scale":{"domain":[0.0513,0.636],"nice":false},"axis":{"values":[0.083,0.1905,0.298,0.4055,0.513,0.6205],"format":".2f","domain":false,"title":"Qₘₐₓ(δ = π/2)","titleAnchor":"middle","titleX":129.5,"titleFontStyle":"italic","titleFontWeight":"normal","titleFontSize":9.5,"titleColor":"#111","titlePadding":2,"labelFontSize":9,"labelColor":"#111","labelPadding":2,"tickSize":3,"tickColor":"black","labelFlush":false}},"x2":{"field":"x1"},"y":{"field":"n","type":"quantitative","scale":{"domain":[0,468],"nice":false},"axis":null},"y2":{"datum":0}}},
{"data":{"name":"obs"},"transform":[{"filter":"datum.p==='a'"}],"mark":{"type":"rule","color":"#ff0000","strokeWidth":1.6,"strokeDash":[5,2]},"encoding":{"x":{"field":"x","type":"quantitative"},"y":{"datum":0,"type":"quantitative"},"y2":{"datum":468}}},
{"data":{"values":[{"f":1}]},"mark":{"type":"rect","fill":null,"stroke":"#333","strokeWidth":1},"encoding":{"x":{"datum":0.0675,"type":"quantitative"},"x2":{"datum":0.636},"y":{"datum":0,"type":"quantitative"},"y2":{"datum":468}}}
]},
{"width":245,"height":156,"layer":[
{"data":{"name":"hist"},"transform":[{"filter":"datum.p==='b'"}],"mark":{"type":"rect","fill":"#2461a5","stroke":"black","strokeWidth":1},"encoding":{"x":{"field":"x0","type":"quantitative","scale":{"domain":[-0.4047,0.0207],"nice":false},"axis":{"values":[-0.396,-0.3144,-0.2328,-0.1512,-0.0696,0.012],"labelExpr":"replace(format(datum.value,'.2f'),'−','-')","title":"Qₘᵢₙ(δ = π/2)","titleFontStyle":"italic","titleFontWeight":"normal","titleFontSize":9.5,"titleColor":"#111","titlePadding":2,"labelFontSize":9,"labelColor":"#111","labelPadding":2,"tickSize":3,"tickColor":"black","domainColor":"#333","labelFlush":false}},"x2":{"field":"x1"},"y":{"field":"n","type":"quantitative","scale":{"domain":[0,468],"nice":false},"axis":null},"y2":{"datum":0}}},
{"data":{"name":"obs"},"transform":[{"filter":"datum.p==='b'"}],"mark":{"type":"rule","color":"#ff0000","strokeWidth":1.6,"strokeDash":[5,2]},"encoding":{"x":{"field":"x","type":"quantitative"}}}
]},
{"width":245,"height":156,"layer":[
{"data":{"name":"hist"},"transform":[{"filter":"datum.p==='c'"}],"mark":{"type":"rect","fill":"#2461a5","stroke":"black","strokeWidth":1},"encoding":{"x":{"field":"x0","type":"quantitative","scale":{"domain":[0.0463,1.0342],"nice":false},"axis":{"values":[0.0825,0.2655,0.4485,0.6315,0.8145,0.9975],"format":".2f","title":"Tₘₐₓ(δ = π/2)","titleFontStyle":"italic","titleFontWeight":"normal","titleFontSize":9.5,"titleColor":"#111","titlePadding":2,"labelFontSize":9,"labelColor":"#111","labelPadding":2,"tickSize":3,"tickColor":"black","domainColor":"#333","labelFlush":false}},"x2":{"field":"x1"},"y":{"field":"n","type":"quantitative","scale":{"domain":[0,468],"nice":false},"axis":null},"y2":{"datum":0}}},
{"data":{"name":"obs"},"transform":[{"filter":"datum.p==='c'"}],"mark":{"type":"rule","color":"#ff0000","strokeWidth":1.6,"strokeDash":[5,2]},"encoding":{"x":{"field":"x","type":"quantitative"}}}
]}
]},
{"spacing":23.5,"bounds":"flush","hconcat":[
{"width":252,"height":155,"view":{"stroke":null},"layer":[
{"data":{"name":"hist"},"transform":[{"filter":"datum.p==='d'"}],"mark":{"type":"rect","fill":"#2461a5","stroke":"black","strokeWidth":1},"encoding":{"x":{"field":"x0","type":"quantitative","scale":{"domain":[0.0839,1.419],"nice":false},"axis":{"values":[0.17,0.408,0.646,0.884,1.122,1.36],"format":".2f","domain":false,"title":"Qₘₐₓ(δ = π/4)","titleAnchor":"middle","titleX":129.5,"titleFontStyle":"italic","titleFontWeight":"normal","titleFontSize":9.5,"titleColor":"#111","titlePadding":2,"labelFontSize":9,"labelColor":"#111","labelPadding":2,"tickSize":3,"tickColor":"black","labelFlush":false}},"x2":{"field":"x1"},"y":{"field":"n","type":"quantitative","scale":{"domain":[0,466],"nice":false},"axis":null},"y2":{"datum":0}}},
{"data":{"name":"obs"},"transform":[{"filter":"datum.p==='d'"}],"mark":{"type":"rule","color":"#ff0000","strokeWidth":1.6,"strokeDash":[5,2]},"encoding":{"x":{"field":"x","type":"quantitative"},"y":{"datum":0,"type":"quantitative"},"y2":{"datum":466}}},
{"data":{"values":[{"f":1}]},"mark":{"type":"rect","fill":null,"stroke":"#333","strokeWidth":1},"encoding":{"x":{"datum":0.121,"type":"quantitative"},"x2":{"datum":1.419},"y":{"datum":0,"type":"quantitative"},"y2":{"datum":466}}}
]},
{"width":245,"height":155,"layer":[
{"data":{"name":"hist"},"transform":[{"filter":"datum.p==='e'"}],"mark":{"type":"rect","fill":"#2461a5","stroke":"black","strokeWidth":1},"encoding":{"x":{"field":"x0","type":"quantitative","scale":{"domain":[-1.405,-0.026],"nice":false},"axis":{"values":[-1.342,-1.0905,-0.839,-0.5875,-0.336,-0.0845],"labelExpr":"replace(format(datum.value,'.2f'),'−','-')","title":"Qₘᵢₙ(δ = π/4)","titleFontStyle":"italic","titleFontWeight":"normal","titleFontSize":9.5,"titleColor":"#111","titlePadding":2,"labelFontSize":9,"labelColor":"#111","labelPadding":2,"tickSize":3,"tickColor":"black","domainColor":"#333","labelFlush":false}},"x2":{"field":"x1"},"y":{"field":"n","type":"quantitative","scale":{"domain":[0,466],"nice":false},"axis":null},"y2":{"datum":0}}},
{"data":{"name":"obs"},"transform":[{"filter":"datum.p==='e'"}],"mark":{"type":"rule","color":"#ff0000","strokeWidth":1.6,"strokeDash":[5,2]},"encoding":{"x":{"field":"x","type":"quantitative"}}}
]},
{"width":245,"height":155,"layer":[
{"data":{"name":"hist"},"transform":[{"filter":"datum.p==='f'"}],"mark":{"type":"rect","fill":"#2461a5","stroke":"black","strokeWidth":1},"encoding":{"x":{"field":"x0","type":"quantitative","scale":{"domain":[0.116,1.634],"nice":false},"axis":{"values":[0.17,0.45,0.73,1.01,1.29,1.57],"format":".2f","title":"Tₘₐₓ(δ = π/4)","titleFontStyle":"italic","titleFontWeight":"normal","titleFontSize":9.5,"titleColor":"#111","titlePadding":2,"labelFontSize":9,"labelColor":"#111","labelPadding":2,"tickSize":3,"tickColor":"black","domainColor":"#333","labelFlush":false}},"x2":{"field":"x1"},"y":{"field":"n","type":"quantitative","scale":{"domain":[0,466],"nice":false},"axis":null},"y2":{"datum":0}}},
{"data":{"name":"obs"},"transform":[{"filter":"datum.p==='f'"}],"mark":{"type":"rule","color":"#ff0000","strokeWidth":1.6,"strokeDash":[5,2]},"encoding":{"x":{"field":"x","type":"quantitative"}}}
]}
]}
],"spacing":15}
